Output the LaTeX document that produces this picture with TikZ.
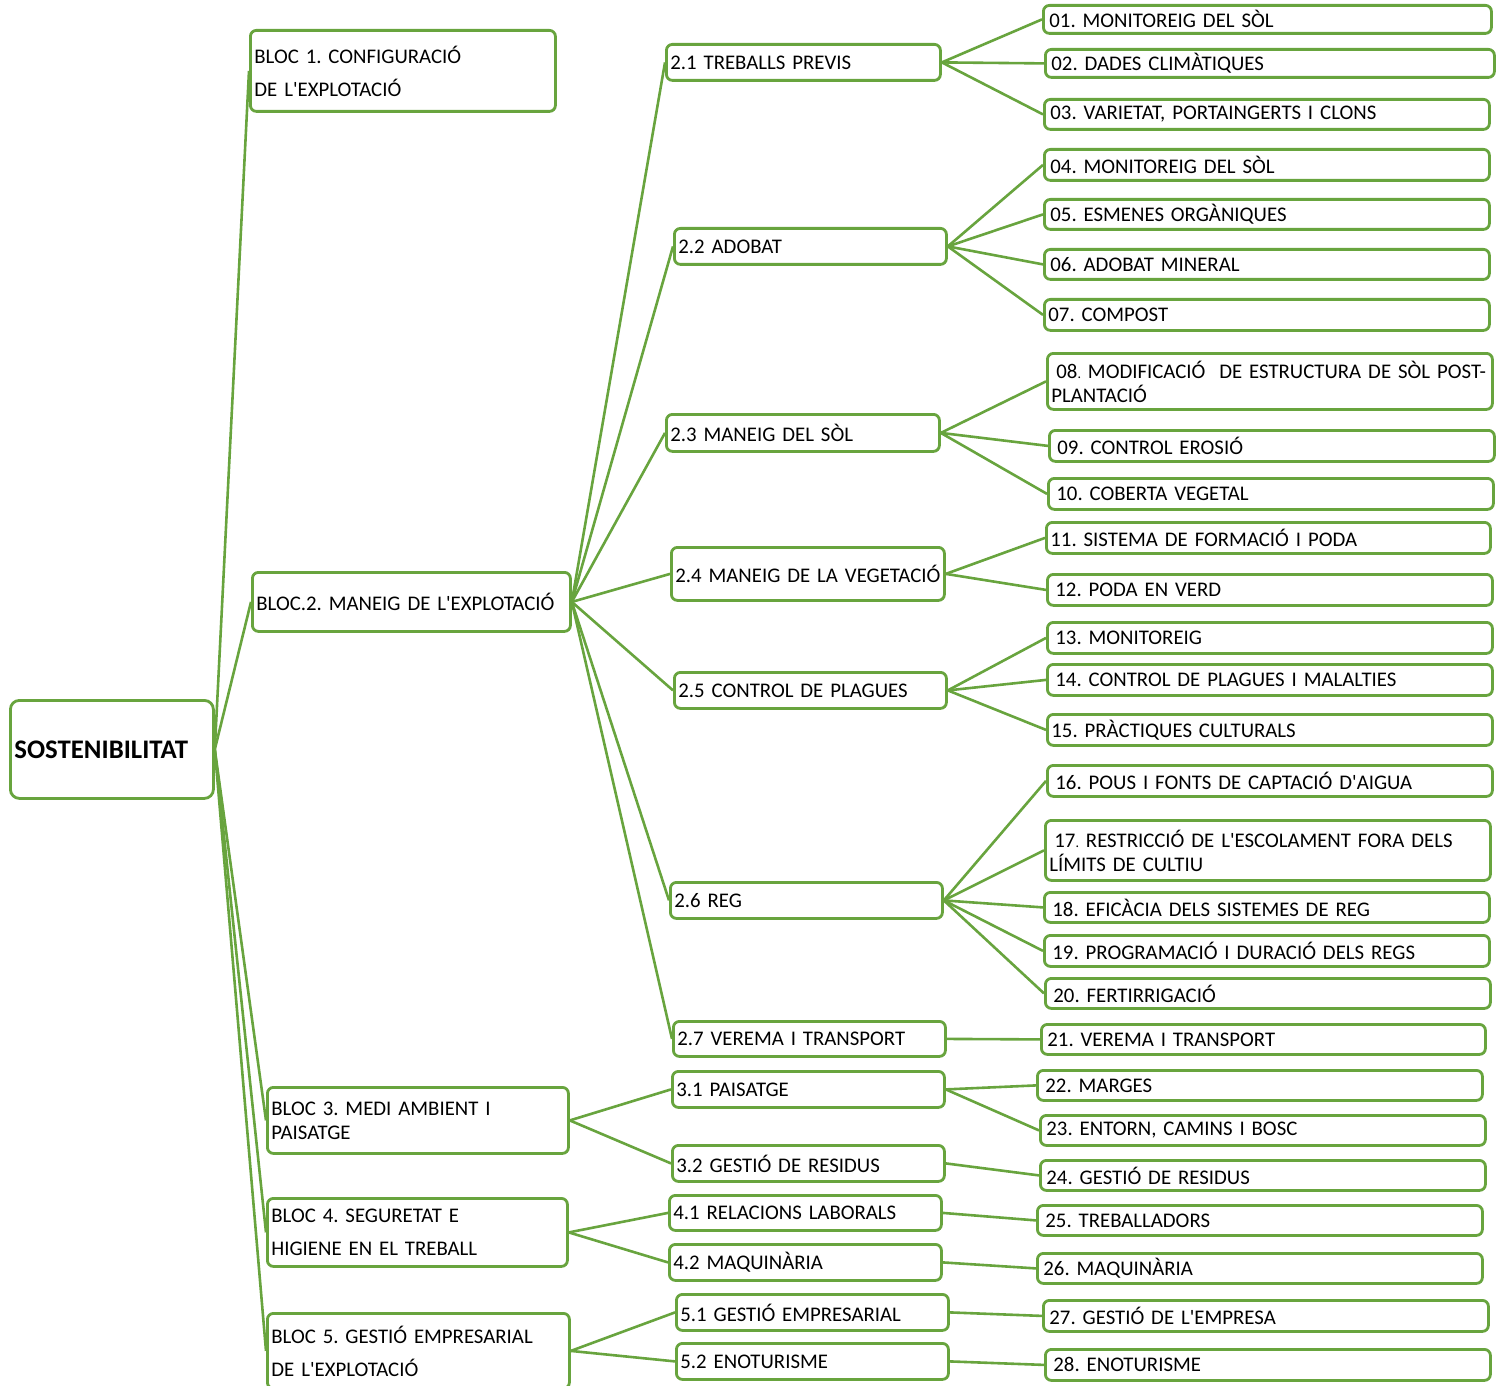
\documentclass[tikz,border=0pt]{standalone}
\usepackage{fontspec}
\setmainfont{Carlito}[Ligatures=TeXOff]
\definecolor{leaf}{RGB}{104,164,62}
\tikzset{
	tbox/.style={draw=leaf, line width=1.4pt, rounded corners=3pt, anchor=north west,
		inner xsep=2pt, inner ysep=0pt, align=left, font=\fontsize{10.4}{12}\selectfont,
		execute at begin node={\frenchspacing\hyphenpenalty=10000\exhyphenpenalty=10000}},
	link/.style={draw=leaf, line width=1.3pt},
}
% box from its top left and bottom right corner, in pixels
\newcommand\tb[7][]{%
	\pgfmathsetmacro\tbw{(#5-#3)*0.5}%
	\pgfmathsetmacro\tbh{(#6-#4)*0.5}%
	\pgfmathsetmacro\tbt{(#5-#3)*0.5-4}%
	\node[tbox, minimum width=\tbw pt, minimum height=\tbh pt, text width=\tbt pt, #1] (#2) at (#3,#4) {#7};}

\begin{document}
\begin{tikzpicture}[x=0.5pt,y=-0.5pt]
		\useasboundingbox (0,0) rectangle (1502,1385);
		
		\tb[font=\bfseries\fontsize{13.4}{15}\selectfont, rounded corners=4.5pt, inner xsep=1.5pt]{root}{9}{699}{212}{797}{SOSTENIBILITAT}
		
		%blocs
		\tb{b1}{249}{29}{554}{110}{BLOC 1. CONFIGURACIÓ\\[4.5pt]DE L'EXPLOTACIÓ}
		\tb{b2}{251}{571}{569}{630}{BLOC.2. MANEIG DE L'EXPLOTACIÓ}
		\tb{b3}{266}{1086}{567}{1152}{BLOC 3. MEDI AMBIENT I\\PAISATGE}
		\tb{b4}{266}{1197}{566}{1265}{BLOC 4. SEGURETAT E\\[4.5pt]HIGIENE EN EL TREBALL}
		\tb{b5}{266}{1312}{568}{1387}{BLOC 5. GESTIÓ EMPRESARIAL\\[4.5pt]DE L'EXPLOTACIÓ}
		
		%sections
		\tb{t21}{665}{43}{939}{79}{2.1 TREBALLS PREVIS}
		\tb{t22}{673}{227}{945}{263}{2.2 ADOBAT}
		\tb{t23}{665}{413}{938}{450}{2.3 MANEIG DEL SÒL}
		\tb{t24}{670}{546}{943}{599}{\mbox{2.4 MANEIG DE LA VEGETACIÓ}}
		\tb{t25}{673}{671}{945}{707}{2.5 CONTROL DE PLAGUES}
		\tb{t26}{669}{881}{941}{917}{2.6 REG}
		\tb{t27}{672}{1020}{944}{1055}{2.7 VEREMA I TRANSPORT}
		\tb{t31}{671}{1070}{943}{1106}{3.1 PAISATGE}
		\tb{t32}{671}{1144}{943}{1180}{3.2 GESTIÓ DE RESIDUS}
		\tb{t41}{668}{1194}{940}{1229}{4.1 RELACIONS LABORALS}
		\tb{t42}{668}{1243}{940}{1279}{4.2 MAQUINÀRIA}
		\tb{t51}{675}{1293}{947}{1329}{5.1 GESTIÓ EMPRESARIAL}
		\tb{t52}{675}{1342}{947}{1378}{5.2 ENOTURISME}
		
		%items
		\tb{n01}{1042}{4}{1490}{32}{\hspace*{1pt}01. MONITOREIG DEL SÒL}
		\tb{n02}{1044}{48}{1493}{76}{\hspace*{1pt}02. DADES CLIMÀTIQUES}
		\tb{n03}{1043}{98}{1488}{128}{\hspace*{1pt}03. VARIETAT, PORTAINGERTS I CLONS}
		\tb{n04}{1043}{148}{1488}{179}{\hspace*{1pt}04. MONITOREIG DEL SÒL}
		\tb{n05}{1043}{198}{1488}{228}{\hspace*{1pt}05. ESMENES ORGÀNIQUES}
		\tb{n06}{1043}{248}{1488}{278}{\hspace*{1pt}06. ADOBAT MINERAL}
		\tb{n07}{1043}{298}{1488}{329}{07. COMPOST}
		\tb{n08}{1046}{352}{1491}{408}{\mbox{\hspace*{2.5pt}08{\scriptsize.} MODIFICACIÓ\ \ DE ESTRUCTURA DE SÒL POST-}\\PLANTACIÓ}
		\tb{n09}{1048}{429}{1493}{460}{\hspace*{2pt}09. CONTROL EROSIÓ}
		\tb{n10}{1047}{477}{1492}{508}{\hspace*{2pt}10. COBERTA VEGETAL}
		\tb{n11}{1045}{521}{1489}{552}{11. SISTEMA DE FORMACIÓ I PODA}
		\tb{n12}{1046}{573}{1491}{604}{\hspace*{2pt}12. PODA EN VERD}
		\tb{n13}{1046}{621}{1491}{652}{\hspace*{2pt}13. MONITOREIG}
		\tb{n14}{1046}{663}{1491}{694}{\hspace*{2pt}14. CONTROL DE PLAGUES I MALALTIES}
		\tb{n15}{1046}{713}{1491}{744}{15. PRÀCTIQUES CULTURALS}
		\tb{n16}{1046}{764}{1491}{795}{\hspace*{2pt}16. POUS I FONTS DE CAPTACIÓ D'AIGUA}
		\tb{n17}{1044}{819}{1489}{879}{\mbox{\hspace*{2.5pt}17{\scriptsize.} RESTRICCIÓ DE L'ESCOLAMENT FORA DELS}\\LÍMITS DE CULTIU}
		\tb{n18}{1043}{891}{1488}{921}{\hspace*{2pt}18. EFICÀCIA DELS SISTEMES DE REG}
		\tb{n19}{1043}{934}{1488}{965}{\hspace*{2pt}19. PROGRAMACIÓ I DURACIÓ DELS REGS}
		\tb{n20}{1044}{977}{1489}{1007}{\hspace*{2pt}20. FERTIRRIGACIÓ}
		\tb{n21}{1040}{1023}{1484}{1053}{\hspace*{1pt}21. VEREMA I TRANSPORT}
		\tb{n22}{1036}{1069}{1481}{1099}{\hspace*{2pt}22. MARGES}
		\tb{n23}{1039}{1114}{1484}{1144}{\hspace*{1pt}23. ENTORN, CAMINS I BOSC}
		\tb{n24}{1039}{1159}{1484}{1189}{\hspace*{1pt}24. GESTIÓ DE RESIDUS}
		\tb{n25}{1036}{1204}{1481}{1234}{\hspace*{2pt}25. TREBALLADORS}
		\tb{n26}{1036}{1252}{1481}{1282}{\hspace*{1pt}26. MAQUINÀRIA}
		\tb{n27}{1042}{1299}{1487}{1330}{\hspace*{1pt}27. GESTIÓ DE L'EMPRESA}
		\tb{n28}{1044}{1348}{1489}{1379}{\hspace*{2pt}28. ENOTURISME}
		
		\foreach \p/\cs in {root/{b1,b2,b3,b4,b5}, b2/{t21,t22,t23,t24,t25,t26,t27},
			b3/{t31,t32}, b4/{t41,t42}, b5/{t51,t52},
			t21/{n01,n02,n03}, t22/{n04,n05,n06,n07}, t23/{n08,n09,n10}, t24/{n11,n12},
			t25/{n13,n14,n15}, t26/{n16,n17,n18,n19,n20}, t27/{n21}, t31/{n22,n23},
			t32/{n24}, t41/{n25}, t42/{n26}, t51/{n27}, t52/{n28}}
			\foreach \c in \cs
				\draw[link] (\p.east) -- (\c.west);
	\end{tikzpicture}
\end{document}
